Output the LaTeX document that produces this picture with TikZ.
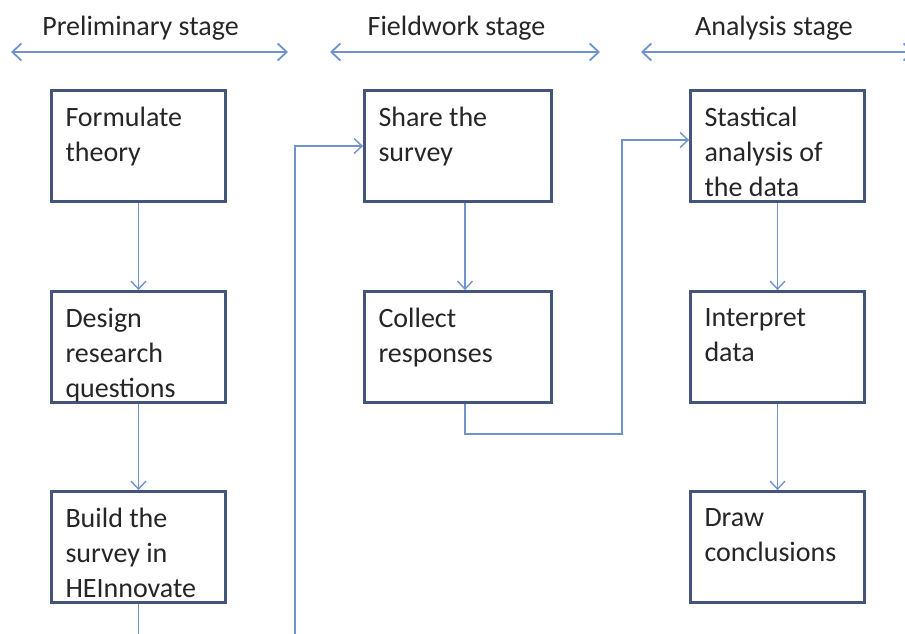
\documentclass[tikz,border=0pt]{standalone}
\usepackage{fontspec}
\setmainfont{Carlito}
\usetikzlibrary{arrows.meta}

\definecolor{boxline}{HTML}{43567A}
\definecolor{linkline}{HTML}{7193CB}
\definecolor{textgray}{HTML}{262626}

\newcommand{\stagetext}[2]{\parbox[t][77pt][t]{#1}{\raggedright #2}}

\begin{document}
\begin{tikzpicture}[
    x=1pt, y=-1pt,
    font=\fontsize{28}{35}\selectfont, text=textgray,
    stagebox/.style={rectangle, draw=boxline, line width=2.8pt, fill=white,
        inner xsep=14pt, inner ysep=17pt},
    phase/.style={inner sep=0pt},
    link/.style={draw=linkline, line width=1.4pt,
        -{Straight Barb[length=8pt, width=15pt]}},
    span/.style={draw=linkline, line width=1.8pt,
        {Straight Barb[length=9pt, width=17pt]}-{Straight Barb[length=9pt, width=17pt]}}
]
\useasboundingbox (0,0) rectangle (905,634);

% Stage headings
\node[phase] (pre) at (140.5,28) {Preliminary stage};
\node[phase] (field) at (456.5,28) {Fieldwork stage};
\node[phase] (ana) at (774,28) {Analysis stage};

\coordinate (pre-l) at (11,52);
\coordinate (pre-r) at (288,52);
\coordinate (field-l) at (330,52);
\coordinate (field-r) at (600,52);
\coordinate (ana-l) at (641,52);
\coordinate (ana-r) at (914,52);

% Preliminary column
\node[stagebox] (theory) at (138.5,146) {\stagetext{146pt}{Formulate\\theory}};
\node[stagebox] (design) at (138.5,347) {\stagetext{146pt}{Design\\research\\questions}};
\node[stagebox] (build) at (138.5,547) {\stagetext{146pt}{Build the\\survey in\\HEInnovate}};

% Fieldwork column
\node[stagebox] (share) at (458,146) {\stagetext{159pt}{Share the\\survey}};
\node[stagebox] (collect) at (458,347) {\stagetext{159pt}{Collect\\responses}};

% Analysis column
\node[stagebox] (stat) at (777.5,146) {\stagetext{146pt}{Stastical\\analysis of\\the data}};
\node[stagebox] (interp) at (777.5,347) {\stagetext{146pt}{Interpret\\data}};
\node[stagebox] (concl) at (777.5,547) {\stagetext{146pt}{Draw\\conclusions}};

% bends of the long connectors (bottom one runs off the page)
\coordinate (loop) at (295,680);
\coordinate (bend) at (622,434);

% Edges
\draw[span] (pre-l) -- (pre-r);
\draw[span] (field-l) -- (field-r);
\draw[span] (ana-l) -- (ana-r);

\draw[link] (theory) -- (design);
\draw[link] (design) -- (build);
\draw[link] ([xshift=7pt]share.south) -- ([xshift=7pt]collect.north);
\draw[link] (stat) -- (interp);
\draw[link] (interp) -- (concl);

\draw[link] (build.south) |- (loop) |- (share.west);
\draw[link] ([xshift=7pt]collect.south) |- (bend) |- ([yshift=6pt]stat.west);

\end{tikzpicture}
\end{document}
